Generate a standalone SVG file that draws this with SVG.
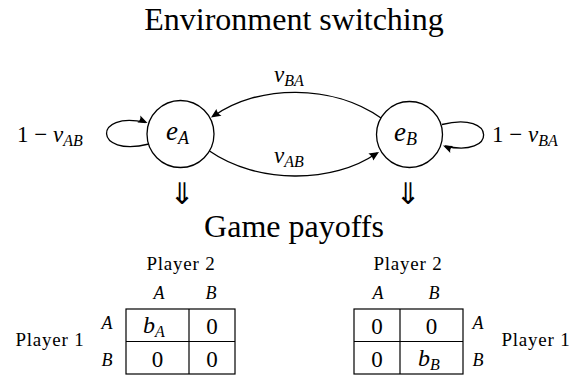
<svg xmlns="http://www.w3.org/2000/svg" width="572" height="377" viewBox="0 0 572 377">
<style>
.t{font-family:"Liberation Serif","Times New Roman",serif}
.it{font-style:italic}
.edge{fill:none;stroke:#000;stroke-width:1.3}
.node{fill:#fff;stroke:#000;stroke-width:1.3}
.grid{fill:none;stroke:#000;stroke-width:1.2}
</style>
<rect width="572" height="377" fill="#fff"/>
<text id="title" class="t" font-size="32" x="294" y="30" text-anchor="middle">Environment switching</text>
<g id="connectors">
<path class="edge" d="M381,118 C333,84 258,84 213,116.5"/>
<path class="edge" d="M209.5,151 C257,184 333,184 377,153"/>
<path class="edge" d="M149,144 C93,158 93,110 145.5,122.5"/>
<path class="edge" d="M442,124.5 C497,110.5 497,158.5 445,146"/>
<g fill="#000">
<path d="M211,117.5 L216.4,108.9 Q217.2,113.4 221.5,115.8 Z"/>
<path d="M379,152 L373.3,160.5 Q372.6,156 368.4,153.5 Z"/>
<path d="M147.5,123 L137.4,122.4 Q141.1,119.9 140.3,115.4 Z"/>
<path d="M443,145.5 L453,145.9 Q449.3,148.4 450.3,152.9 Z"/>
</g>
</g>
<g id="eA">
<circle class="node" cx="180.5" cy="134" r="33.5"/>
<text class="t it" font-size="27" x="166" y="140">e<tspan font-size="18" dy="4">A</tspan></text>
</g>
<g id="eB">
<circle class="node" cx="409.5" cy="134.5" r="33"/>
<text class="t it" font-size="27" x="394" y="140.5">e<tspan font-size="18" dy="4">B</tspan></text>
</g>
<g id="edge-labels">
<text class="t it" font-size="23" x="274" y="82">v<tspan font-size="16" dy="4">BA</tspan></text>
<text class="t it" font-size="23" x="274" y="163">v<tspan font-size="16" dy="4">AB</tspan></text>
<text class="t" font-size="23" x="17" y="142">1 − <tspan class="it">v</tspan><tspan class="it" font-size="16" dy="4">AB</tspan></text>
<text class="t" font-size="23" x="492" y="142">1 − <tspan class="it">v</tspan><tspan class="it" font-size="16" dy="4">BA</tspan></text>
</g>
<g id="implies" font-family="DejaVu Sans">
<text font-size="30" text-anchor="middle" x="182" y="204">⇓</text>
<text font-size="30" text-anchor="middle" x="408" y="204">⇓</text>
</g>
<text id="subtitle" class="t" font-size="32" x="294" y="237" text-anchor="middle">Game payoffs</text>
<g id="tableA">
<text class="t" font-size="19" letter-spacing="0.8" text-anchor="middle" x="181" y="270">Player 2</text>
<text class="t" font-size="19" letter-spacing="0.8" text-anchor="middle" x="50" y="346">Player 1</text>
<text class="t it" font-size="18" text-anchor="middle" x="159" y="299">A</text>
<text class="t it" font-size="18" text-anchor="middle" x="211" y="299">B</text>
<text class="t it" font-size="18" text-anchor="middle" x="107" y="329">A</text>
<text class="t it" font-size="18" text-anchor="middle" x="107" y="366">B</text>
<rect class="grid" x="126" y="309" width="109" height="65"/>
<line class="grid" x1="189" y1="309" x2="189" y2="374"/>
<line class="grid" x1="126" y1="341.5" x2="235" y2="341.5"/>
<text class="t it" font-size="24" x="143" y="333">b<tspan font-size="16" dy="4">A</tspan></text>
<text class="t" font-size="23" text-anchor="middle" x="212" y="333.5">0</text>
<text class="t" font-size="23" text-anchor="middle" x="157.5" y="366.5">0</text>
<text class="t" font-size="23" text-anchor="middle" x="212" y="366.5">0</text>
</g>
<g id="tableB">
<text class="t" font-size="19" letter-spacing="0.8" text-anchor="middle" x="408" y="270">Player 2</text>
<text class="t" font-size="19" letter-spacing="0.8" text-anchor="middle" x="536" y="346">Player 1</text>
<text class="t it" font-size="18" text-anchor="middle" x="378" y="299">A</text>
<text class="t it" font-size="18" text-anchor="middle" x="434" y="299">B</text>
<text class="t it" font-size="18" text-anchor="middle" x="478" y="329">A</text>
<text class="t it" font-size="18" text-anchor="middle" x="478" y="366">B</text>
<rect class="grid" x="354" y="309" width="109" height="65"/>
<line class="grid" x1="400" y1="309" x2="400" y2="374"/>
<line class="grid" x1="354" y1="341.5" x2="463" y2="341.5"/>
<text class="t" font-size="23" text-anchor="middle" x="377" y="333.5">0</text>
<text class="t" font-size="23" text-anchor="middle" x="431.5" y="333.5">0</text>
<text class="t" font-size="23" text-anchor="middle" x="377" y="366.5">0</text>
<text class="t it" font-size="24" x="418" y="366">b<tspan font-size="16" dy="4">B</tspan></text>
</g>
</svg>
